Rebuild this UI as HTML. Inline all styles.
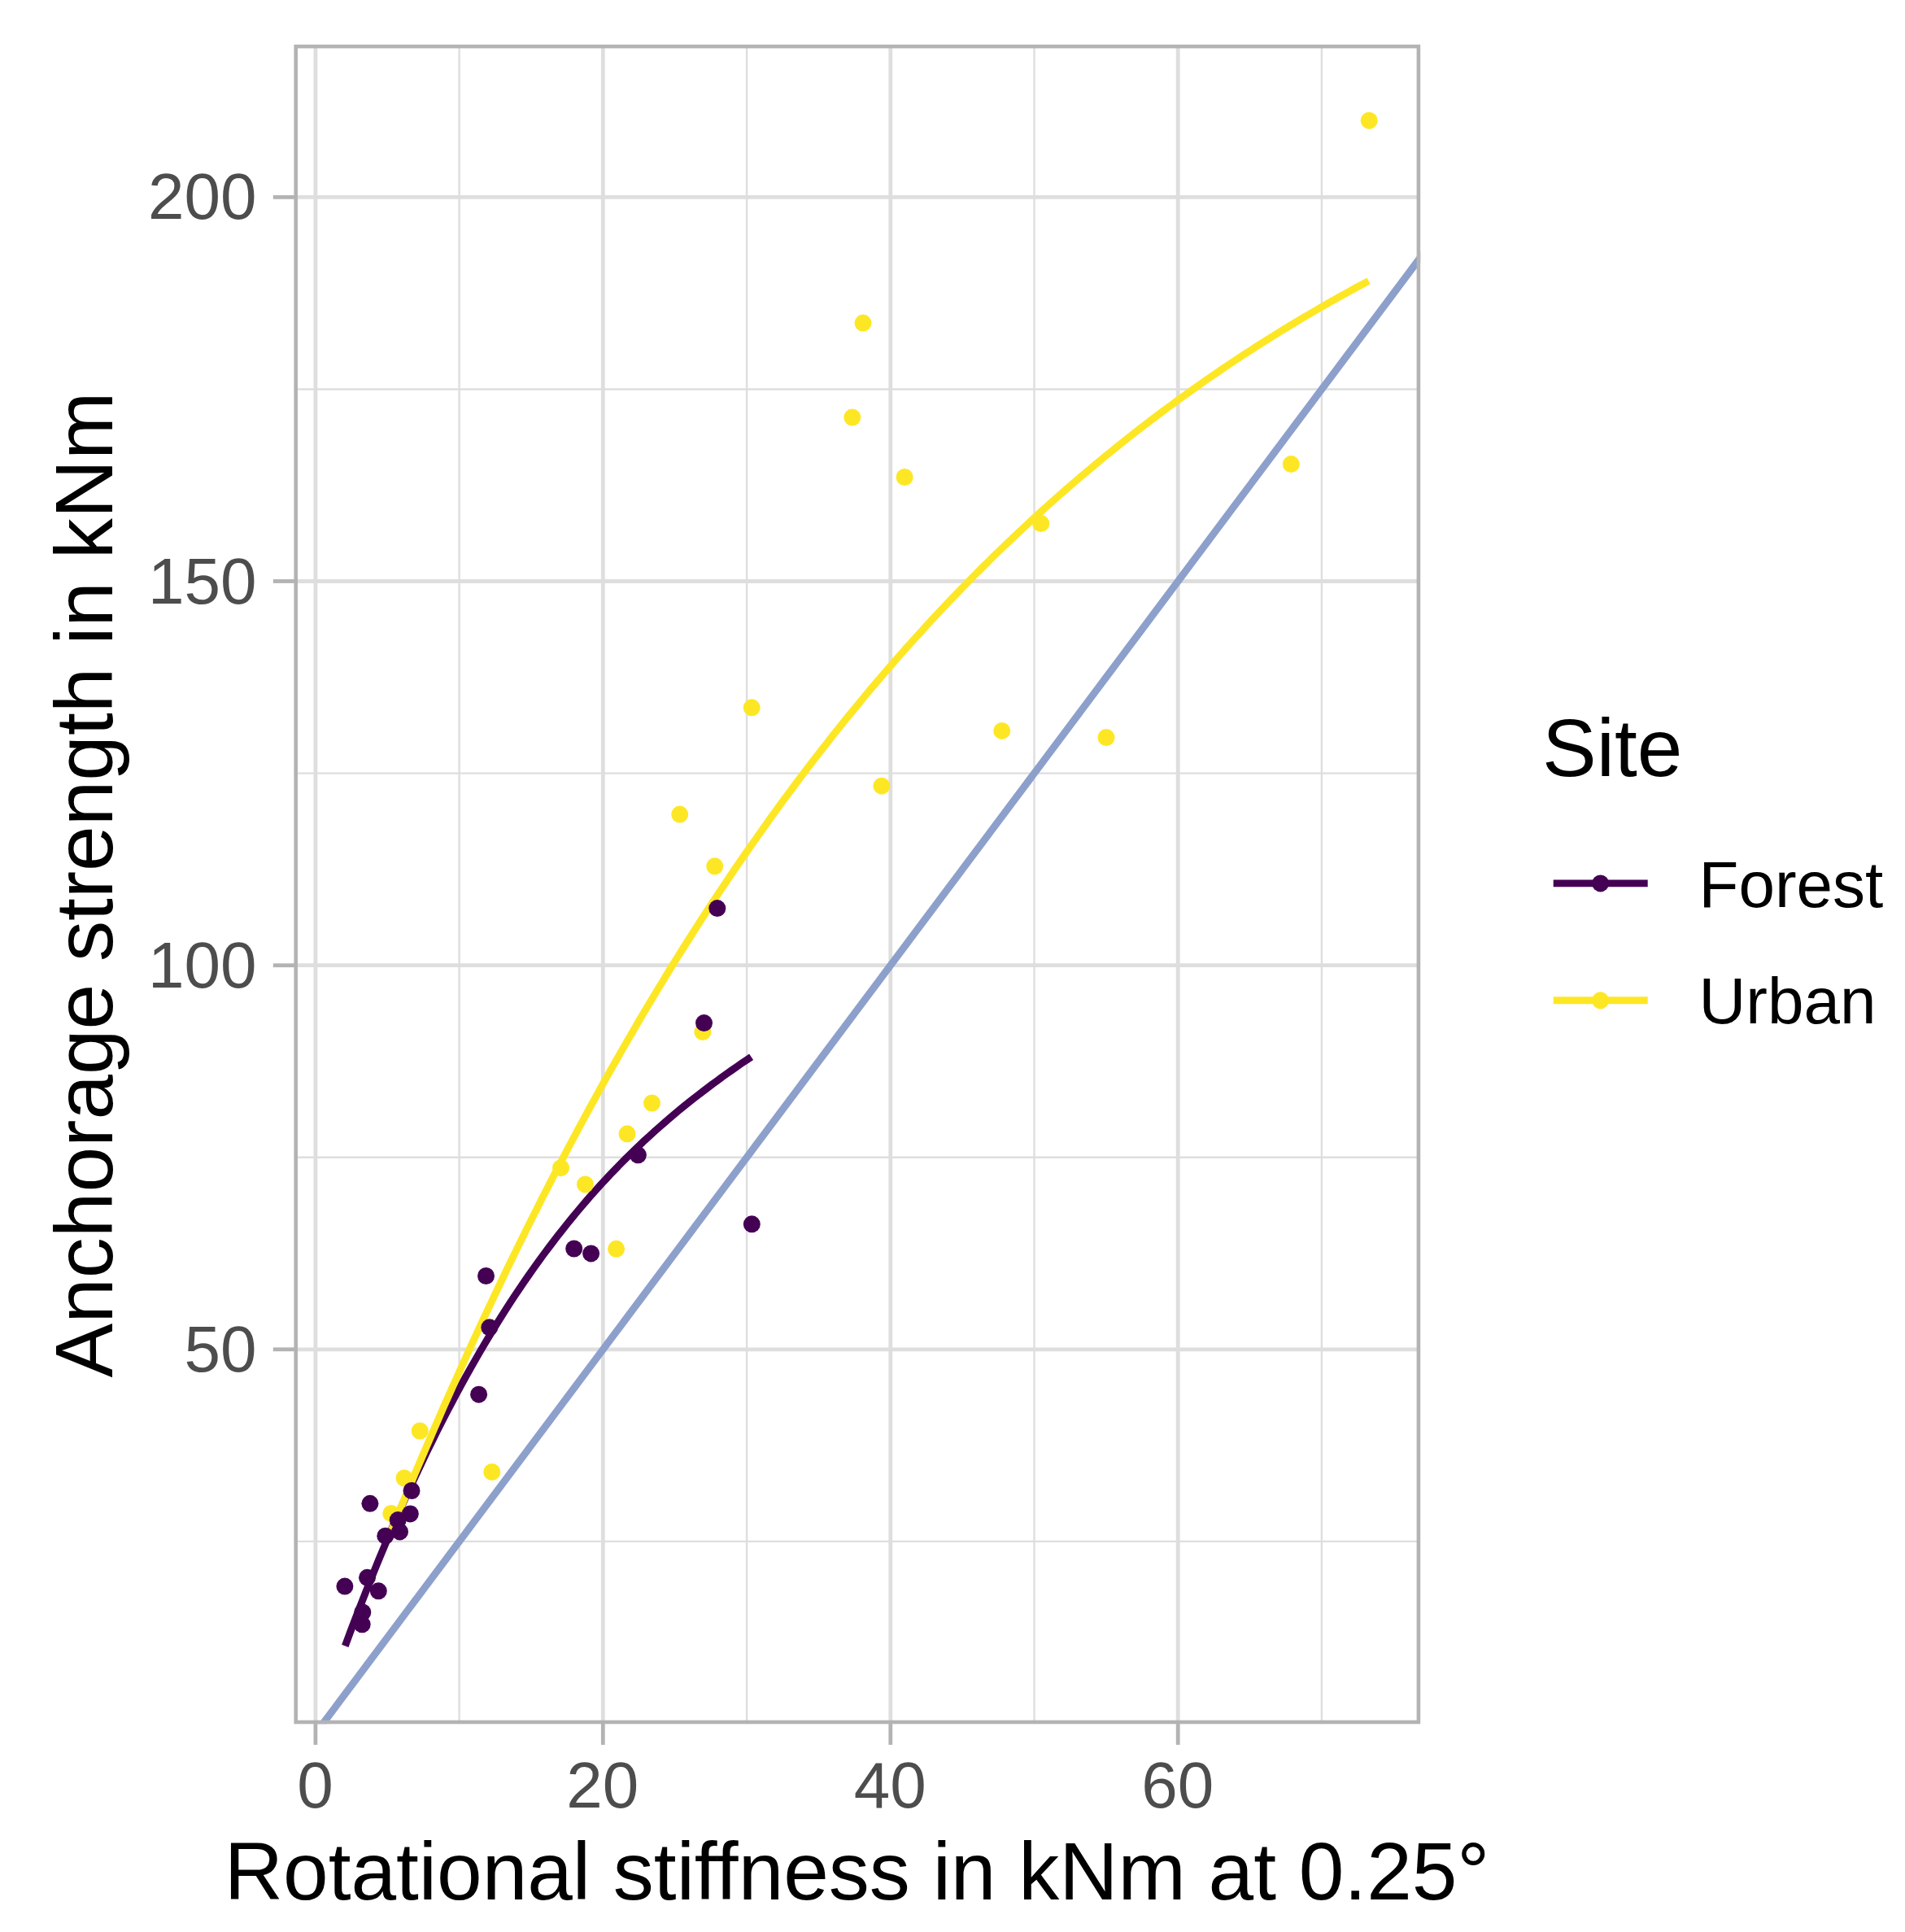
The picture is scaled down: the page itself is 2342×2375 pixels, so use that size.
<!DOCTYPE html>
<html lang="en"><head><meta charset="utf-8"><title>Anchorage strength vs rotational stiffness</title>
<style>
html,body{margin:0;padding:0;background:#fff;}
body{width:2342px;height:2375px;overflow:hidden;}
svg{display:block;}
text{font-family:"Liberation Sans",sans-serif;}
.ax{font-size:80px;fill:#4d4d4d;}
.ti{font-size:100px;fill:#000;}
.lg{font-size:80px;fill:#000;}
</style></head><body>
<svg width="2342" height="2375" viewBox="0 0 2342 2375">
<rect x="0" y="0" width="2342" height="2375" fill="#ffffff"/>
<defs><clipPath id="pc"><rect x="361.4" y="54.8" width="1384.8000000000002" height="2064.5"/></clipPath></defs>
<g clip-path="url(#pc)">
<line x1="361.4" x2="1746.2" y1="1894.9" y2="1894.9" stroke="#dedede" stroke-width="2.4"/>
<line x1="361.4" x2="1746.2" y1="1422.8" y2="1422.8" stroke="#dedede" stroke-width="2.4"/>
<line x1="361.4" x2="1746.2" y1="950.6" y2="950.6" stroke="#dedede" stroke-width="2.4"/>
<line x1="361.4" x2="1746.2" y1="478.5" y2="478.5" stroke="#dedede" stroke-width="2.4"/>
<line y1="54.8" y2="2119.3" x1="564.6" x2="564.6" stroke="#dedede" stroke-width="2.4"/>
<line y1="54.8" y2="2119.3" x1="918.1" x2="918.1" stroke="#dedede" stroke-width="2.4"/>
<line y1="54.8" y2="2119.3" x1="1271.5" x2="1271.5" stroke="#dedede" stroke-width="2.4"/>
<line y1="54.8" y2="2119.3" x1="1624.9" x2="1624.9" stroke="#dedede" stroke-width="2.4"/>
<line x1="361.4" x2="1746.2" y1="1658.8" y2="1658.8" stroke="#dedede" stroke-width="4.8"/>
<line x1="361.4" x2="1746.2" y1="1186.7" y2="1186.7" stroke="#dedede" stroke-width="4.8"/>
<line x1="361.4" x2="1746.2" y1="714.5" y2="714.5" stroke="#dedede" stroke-width="4.8"/>
<line x1="361.4" x2="1746.2" y1="242.4" y2="242.4" stroke="#dedede" stroke-width="4.8"/>
<line y1="54.8" y2="2119.3" x1="387.9" x2="387.9" stroke="#dedede" stroke-width="4.8"/>
<line y1="54.8" y2="2119.3" x1="741.3" x2="741.3" stroke="#dedede" stroke-width="4.8"/>
<line y1="54.8" y2="2119.3" x1="1094.8" x2="1094.8" stroke="#dedede" stroke-width="4.8"/>
<line y1="54.8" y2="2119.3" x1="1448.2" x2="1448.2" stroke="#dedede" stroke-width="4.8"/>
<line x1="334.9" y1="2201.8" x2="1801.7" y2="242.4" stroke="#8da0cb" stroke-width="8.9"/>
<path d="M424.3,2023.4 L430.2,2007.4 L436.2,1991.7 L442.1,1976.3 L448.1,1961.1 L454.0,1946.1 L460.0,1931.3 L465.9,1916.8 L471.9,1902.5 L477.8,1888.5 L483.7,1874.6 L489.7,1861.0 L495.6,1847.6 L501.6,1834.4 L507.5,1821.4 L513.5,1808.6 L519.4,1796.1 L525.3,1783.7 L531.3,1771.5 L537.2,1759.6 L543.2,1747.8 L549.1,1736.3 L555.1,1724.9 L561.0,1713.7 L567.0,1702.7 L572.9,1691.9 L578.8,1681.3 L584.8,1670.9 L590.7,1660.6 L596.7,1650.5 L602.6,1640.6 L608.6,1630.9 L614.5,1621.3 L620.5,1611.9 L626.4,1602.7 L632.3,1593.6 L638.3,1584.7 L644.2,1576.0 L650.2,1567.4 L656.1,1559.0 L662.1,1550.7 L668.0,1542.5 L674.0,1534.5 L679.9,1526.7 L685.8,1519.0 L691.8,1511.4 L697.7,1504.0 L703.7,1496.7 L709.6,1489.5 L715.6,1482.4 L721.5,1475.5 L727.4,1468.7 L733.4,1462.1 L739.3,1455.5 L745.3,1449.1 L751.2,1442.8 L757.2,1436.6 L763.1,1430.5 L769.1,1424.5 L775.0,1418.7 L780.9,1412.9 L786.9,1407.2 L792.8,1401.6 L798.8,1396.2 L804.7,1390.8 L810.7,1385.5 L816.6,1380.3 L822.6,1375.2 L828.5,1370.1 L834.4,1365.2 L840.4,1360.3 L846.3,1355.5 L852.3,1350.8 L858.2,1346.2 L864.2,1341.6 L870.1,1337.1 L876.0,1332.6 L882.0,1328.3 L887.9,1323.9 L893.9,1319.7 L899.8,1315.5 L905.8,1311.3 L911.7,1307.2 L917.7,1303.2 L923.6,1299.2" fill="none" stroke="#440154" stroke-width="8.9" stroke-linejoin="round"/>
<path d="M479.6,1885.4 L485.6,1870.7 L491.6,1856.2 L497.6,1841.7 L503.5,1827.4 L509.5,1813.1 L515.5,1798.9 L521.5,1784.9 L527.5,1770.9 L533.5,1757.1 L539.5,1743.3 L545.4,1729.6 L551.4,1716.1 L557.4,1702.6 L563.4,1689.2 L569.4,1675.9 L575.4,1662.7 L581.3,1649.6 L587.3,1636.6 L593.3,1623.7 L599.3,1610.9 L605.3,1598.2 L611.3,1585.5 L617.3,1573.0 L623.2,1560.5 L629.2,1548.2 L635.2,1535.9 L641.2,1523.7 L647.2,1511.6 L653.2,1499.6 L659.2,1487.7 L665.1,1475.8 L671.1,1464.1 L677.1,1452.4 L683.1,1440.8 L689.1,1429.3 L695.1,1417.9 L701.0,1406.5 L707.0,1395.3 L713.0,1384.1 L719.0,1373.0 L725.0,1362.0 L731.0,1351.1 L737.0,1340.2 L742.9,1329.4 L748.9,1318.8 L754.9,1308.1 L760.9,1297.6 L766.9,1287.1 L772.9,1276.8 L778.9,1266.5 L784.8,1256.2 L790.8,1246.1 L796.8,1236.0 L802.8,1226.0 L808.8,1216.0 L814.8,1206.2 L820.7,1196.4 L826.7,1186.7 L832.7,1177.0 L838.7,1167.5 L844.7,1158.0 L850.7,1148.5 L856.7,1139.2 L862.6,1129.9 L868.6,1120.7 L874.6,1111.5 L880.6,1102.4 L886.6,1093.4 L892.6,1084.5 L898.6,1075.6 L904.5,1066.8 L910.5,1058.0 L916.5,1049.4 L922.5,1040.7 L928.5,1032.2 L934.5,1023.7 L940.5,1015.3 L946.4,1006.9 L952.4,998.6 L958.4,990.4 L964.4,982.2 L970.4,974.1 L976.4,966.0 L982.3,958.1 L988.3,950.1 L994.3,942.3 L1000.3,934.4 L1006.3,926.7 L1012.3,919.0 L1018.3,911.4 L1024.2,903.8 L1030.2,896.3 L1036.2,888.8 L1042.2,881.4 L1048.2,874.1 L1054.2,866.8 L1060.2,859.5 L1066.1,852.3 L1072.1,845.2 L1078.1,838.1 L1084.1,831.1 L1090.1,824.2 L1096.1,817.2 L1102.0,810.4 L1108.0,803.6 L1114.0,796.8 L1120.0,790.1 L1126.0,783.5 L1132.0,776.9 L1138.0,770.3 L1143.9,763.8 L1149.9,757.4 L1155.9,751.0 L1161.9,744.6 L1167.9,738.3 L1173.9,732.1 L1179.9,725.9 L1185.8,719.7 L1191.8,713.6 L1197.8,707.5 L1203.8,701.5 L1209.8,695.5 L1215.8,689.6 L1221.7,683.7 L1227.7,677.9 L1233.7,672.1 L1239.7,666.4 L1245.7,660.7 L1251.7,655.0 L1257.7,649.4 L1263.6,643.9 L1269.6,638.3 L1275.6,632.9 L1281.6,627.4 L1287.6,622.0 L1293.6,616.7 L1299.6,611.3 L1305.5,606.1 L1311.5,600.8 L1317.5,595.7 L1323.5,590.5 L1329.5,585.4 L1335.5,580.3 L1341.5,575.3 L1347.4,570.3 L1353.4,565.4 L1359.4,560.4 L1365.4,555.6 L1371.4,550.7 L1377.4,545.9 L1383.3,541.2 L1389.3,536.4 L1395.3,531.8 L1401.3,527.1 L1407.3,522.5 L1413.3,517.9 L1419.3,513.4 L1425.2,508.9 L1431.2,504.4 L1437.2,500.0 L1443.2,495.6 L1449.2,491.2 L1455.2,486.9 L1461.2,482.6 L1467.1,478.3 L1473.1,474.1 L1479.1,469.9 L1485.1,465.7 L1491.1,461.6 L1497.1,457.5 L1503.0,453.4 L1509.0,449.4 L1515.0,445.4 L1521.0,441.4 L1527.0,437.4 L1533.0,433.5 L1539.0,429.7 L1544.9,425.8 L1550.9,422.0 L1556.9,418.2 L1562.9,414.5 L1568.9,410.7 L1574.9,407.0 L1580.9,403.4 L1586.8,399.7 L1592.8,396.1 L1598.8,392.5 L1604.8,389.0 L1610.8,385.5 L1616.8,382.0 L1622.7,378.5 L1628.7,375.1 L1634.7,371.7 L1640.7,368.3 L1646.7,364.9 L1652.7,361.6 L1658.7,358.3 L1664.6,355.0 L1670.6,351.8 L1676.6,348.6 L1682.6,345.4" fill="none" stroke="#fde725" stroke-width="8.9" stroke-linejoin="round"/>
<g fill="#fde725"><circle cx="516.2" cy="1759.0" r="10.5"/><circle cx="604.8" cy="1809.5" r="10.5"/><circle cx="497.0" cy="1817.0" r="10.5"/><circle cx="480.8" cy="1860.5" r="10.5"/><circle cx="757.6" cy="1535.3" r="10.5"/><circle cx="863.9" cy="1268.6" r="10.5"/><circle cx="801.5" cy="1356.0" r="10.5"/><circle cx="771.0" cy="1393.8" r="10.5"/><circle cx="689.5" cy="1435.7" r="10.5"/><circle cx="719.5" cy="1455.9" r="10.5"/><circle cx="924.2" cy="869.8" r="10.5"/><circle cx="835.7" cy="1001.1" r="10.5"/><circle cx="878.7" cy="1064.8" r="10.5"/><circle cx="1083.9" cy="966.2" r="10.5"/><circle cx="1061.0" cy="397.1" r="10.5"/><circle cx="1047.8" cy="513.1" r="10.5"/><circle cx="1112.1" cy="586.5" r="10.5"/><circle cx="1279.7" cy="643.6" r="10.5"/><circle cx="1231.7" cy="898.4" r="10.5"/><circle cx="1360.0" cy="906.6" r="10.5"/><circle cx="1587.3" cy="570.6" r="10.5"/><circle cx="1683.2" cy="148.2" r="10.5"/></g>
<g fill="#440154"><circle cx="588.6" cy="1714.2" r="10.5"/><circle cx="506.0" cy="1832.5" r="10.5"/><circle cx="454.9" cy="1848.3" r="10.5"/><circle cx="504.3" cy="1860.9" r="10.5"/><circle cx="489.2" cy="1868.6" r="10.5"/><circle cx="491.5" cy="1882.9" r="10.5"/><circle cx="473.8" cy="1888.2" r="10.5"/><circle cx="451.5" cy="1939.3" r="10.5"/><circle cx="423.9" cy="1950.1" r="10.5"/><circle cx="465.3" cy="1955.8" r="10.5"/><circle cx="445.8" cy="1982.0" r="10.5"/><circle cx="445.2" cy="1996.8" r="10.5"/><circle cx="597.5" cy="1568.5" r="10.5"/><circle cx="705.7" cy="1535.0" r="10.5"/><circle cx="726.6" cy="1540.9" r="10.5"/><circle cx="601.8" cy="1631.8" r="10.5"/><circle cx="865.5" cy="1257.6" r="10.5"/><circle cx="784.4" cy="1419.8" r="10.5"/><circle cx="924.3" cy="1504.8" r="10.5"/><circle cx="881.8" cy="1116.6" r="10.5"/></g>
</g>
<rect x="363.7" y="57.099999999999994" width="1380.2000000000003" height="2059.9" fill="none" stroke="#b3b3b3" stroke-width="4.6"/>
<line x1="335.8" x2="361.9" y1="1658.8" y2="1658.8" stroke="#b3b3b3" stroke-width="4.8"/>
<line x1="335.8" x2="361.9" y1="1186.7" y2="1186.7" stroke="#b3b3b3" stroke-width="4.8"/>
<line x1="335.8" x2="361.9" y1="714.5" y2="714.5" stroke="#b3b3b3" stroke-width="4.8"/>
<line x1="335.8" x2="361.9" y1="242.4" y2="242.4" stroke="#b3b3b3" stroke-width="4.8"/>
<line y1="2118.8" y2="2144.9" x1="387.9" x2="387.9" stroke="#b3b3b3" stroke-width="4.8"/>
<line y1="2118.8" y2="2144.9" x1="741.3" x2="741.3" stroke="#b3b3b3" stroke-width="4.8"/>
<line y1="2118.8" y2="2144.9" x1="1094.8" x2="1094.8" stroke="#b3b3b3" stroke-width="4.8"/>
<line y1="2118.8" y2="2144.9" x1="1448.2" x2="1448.2" stroke="#b3b3b3" stroke-width="4.8"/>
<text class="ax" x="315.6" y="1685.8" text-anchor="end">50</text>
<text class="ax" x="315.6" y="1213.7" text-anchor="end">100</text>
<text class="ax" x="315.6" y="741.5" text-anchor="end">150</text>
<text class="ax" x="315.6" y="269.4" text-anchor="end">200</text>
<text class="ax" x="387.4" y="2222.4" text-anchor="middle">0</text>
<text class="ax" x="740.8" y="2222.4" text-anchor="middle">20</text>
<text class="ax" x="1094.3" y="2222.4" text-anchor="middle">40</text>
<text class="ax" x="1447.7" y="2222.4" text-anchor="middle">60</text>
<text class="ti" x="1053.6" y="2334.6" text-anchor="middle">Rotational stiffness in kNm at 0.25°</text>
<text class="ti" transform="translate(137.8,1087.6) rotate(-90)" text-anchor="middle">Anchorage strength in kNm</text>
<text class="ti" x="1896.1" y="954.3">Site</text>
<line x1="1909.7" x2="2025.7" y1="1085.9" y2="1085.9" stroke="#440154" stroke-width="8.9"/>
<circle cx="1967.6" cy="1085.9" r="10.5" fill="#440154"/>
<text class="lg" x="2088.6" y="1114.8">Forest</text>
<line x1="1909.7" x2="2025.7" y1="1229.8" y2="1229.8" stroke="#fde725" stroke-width="8.9"/>
<circle cx="1967.6" cy="1229.8" r="10.5" fill="#fde725"/>
<text class="lg" x="2088.6" y="1257.8">Urban</text>
</svg></body></html>
